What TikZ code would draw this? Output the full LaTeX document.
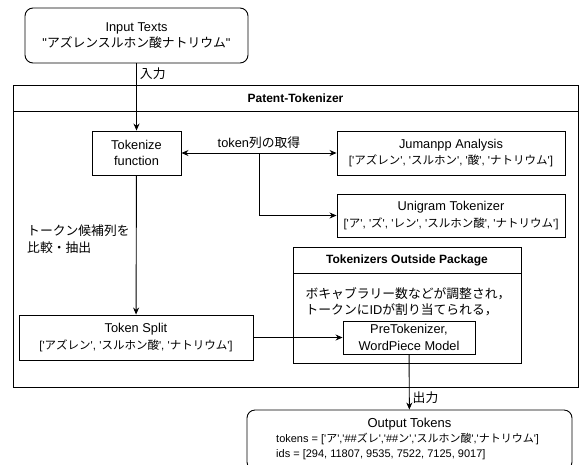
\documentclass[tikz,border=0pt]{standalone}
\usepackage{fontspec}
\setmainfont{Liberation Sans}[Ligatures=TeXOff]
\newfontfamily\jpfont{Noto Sans CJK JP}
\usepackage{tikz}
\usetikzlibrary{arrows.meta}
\newcommand{\ja}[1]{{\jpfont #1}}
\newcommand{\listline}[1]{{\fontsize{11.5}{16.5}\selectfont #1}}

\begin{document}
\begin{tikzpicture}[x=1pt, y=-1pt,
	every node/.style={font=\fontsize{12.8}{16.5}\selectfont},
	box/.style={draw, line width=0.9pt, align=center, inner sep=0pt},
	arr/.style={line width=0.9pt, -{Stealth[length=7pt, width=6pt]}},
	small/.style={font=\fontsize{11}{15}\selectfont}]
	\useasboundingbox (0, 0) rectangle (583, 464);
	\node[box, rounded corners=8pt, minimum width=223pt, minimum height=55pt] (input) at (136.5, 35.5) {Input Texts\\"\ja{アズレンスルホン酸ナトリウム}"};
	\node[box, minimum width=565pt, minimum height=302pt] (patent) at (295.5, 236) {};
	\draw[line width=0.9pt] (13, 111) -- (578, 111);
	\node[font=\fontsize{12}{15}\selectfont\bfseries] (patenttitle) at (295.5, 98) {Patent-Tokenizer};
	\node[box, minimum width=89pt, minimum height=44pt] (tokenize) at (136.5, 153) {Tokenize\\function};
	\node[box, minimum width=228pt, minimum height=44pt] (jumanpp) at (451, 153) {Jumanpp Analysis\\\listline{['\ja{アズレン}', '\ja{スルホン}', '\ja{酸}', '\ja{ナトリウム}']}};
	\node[box, minimum width=228pt, minimum height=43pt] (unigram) at (451, 215.5) {Unigram Tokenizer\\\listline{['\ja{ア}', '\ja{ズ}', '\ja{レン}', '\ja{スルホン酸}', '\ja{ナトリウム}']}};
	\node[box, minimum width=228pt, minimum height=116pt] (outside) at (407, 305) {};
	\draw[line width=0.9pt] (293, 273) -- (521, 273);
	\node[font=\fontsize{12}{15}\selectfont\bfseries] (outsidetitle) at (407, 260) {Tokenizers Outside Package};
	\node[align=left, inner sep=0pt] (outsidetext) at (408, 301.5) {\ja{ボキャブラリー数などが調整され，}\\\ja{トークンに}ID\ja{が割り当てられる，}};
	\node[box, minimum width=132pt, minimum height=33pt] (pretok) at (409, 337.5) {PreTokenizer,\\WordPiece Model};
	\node[box, minimum width=234pt, minimum height=45pt] (split) at (136, 337.5) {Token Split\\\listline{['\ja{アズレン}', '\ja{スルホン酸}', '\ja{ナトリウム}']}};
	\node[box, rounded corners=8pt, minimum width=325pt, minimum height=60pt] (output) at (409.5, 440) {};
	\node[font=\fontsize{13}{16}\selectfont] (outputtitle) at (409.5, 424) {Output Tokens};
	\node[small, align=left, anchor=north west, inner sep=0pt] (outputtext) at (276, 433) {tokens = ['\ja{ア}','\#\#\ja{ズレ}','\#\#\ja{ン}','\ja{スルホン酸}','\ja{ナトリウム}']\\ids = [294, 11807, 9535, 7522, 7125, 9017]};
	\coordinate (fork) at (259, 153);
	\draw[arr] (input) -- (tokenize) node[pos=0.15, right, inner sep=3pt] {\ja{入力}};
	\draw[arr, {Stealth[length=7pt, width=6pt]}-{Stealth[length=7pt, width=6pt]}] (tokenize) -- (jumanpp) node[midway, above, inner sep=4pt] {token\ja{列の取得}};
	\draw[arr] (fork) |- (unigram);
	\draw[arr] (tokenize) -- (split);
	\node[align=left, anchor=west, inner sep=0pt] (splitlabel) at (27, 239) {\ja{トークン候補列を}\\\ja{比較・抽出}};
	\draw[arr] (split) -- (pretok);
	\draw[arr] (pretok) -- (output) node[pos=0.78, right, inner sep=3pt] {\ja{出力}};
\end{tikzpicture}
\end{document}
